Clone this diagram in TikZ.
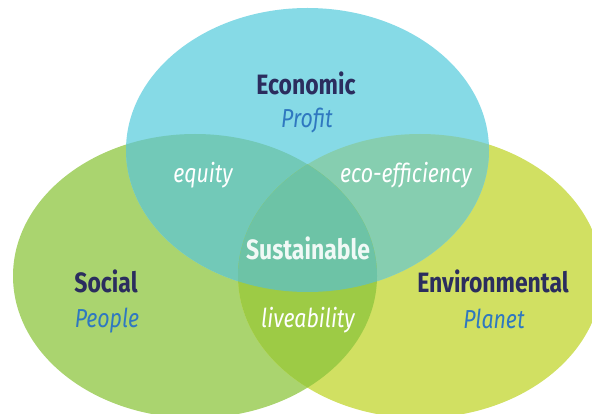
\documentclass[tikz,border=0pt]{standalone}
\usepackage{fontspec}
\setmainfont{Fira Sans}[FakeStretch=0.82]
\definecolor{cTop}{HTML}{86DAE6}
\definecolor{cLeft}{HTML}{AAD46F}
\definecolor{cRight}{HTML}{D1E062}
\definecolor{cTL}{HTML}{72C9B8}
\definecolor{cTR}{HTML}{86CEB0}
\definecolor{cLR}{HTML}{9DCB45}
\definecolor{cMid}{HTML}{6DC3A6}
\definecolor{cHead}{HTML}{2B2D5E}
\definecolor{cSub}{HTML}{2F78C0}
\begin{document}
\begin{tikzpicture}[x=1pt,y=-1pt,
  head/.style={anchor=base,text=cHead,font=\fontsize{28}{32}\selectfont\bfseries},
  sub/.style={anchor=base,text=cSub,font=\fontsize{26}{30}\selectfont\itshape},
  inner/.style={anchor=base,text=white,font=\fontsize{26}{30}\selectfont\itshape},
  core/.style={anchor=base,text=white!90!cMid,font=\fontsize{28}{32}\selectfont\bfseries}]
\useasboundingbox (0,0) rectangle (592,414);
\def\pTop{(307.5,150) ellipse [x radius=181.5pt, y radius=142pt]}
\def\pLeft{(195,276) ellipse [x radius=182pt, y radius=142pt]}
\def\pRight{(420,276) ellipse [x radius=182pt, y radius=142pt]}
\fill[cLeft] \pLeft;
\fill[cRight] \pRight;
\fill[cTop] \pTop;
\begin{scope}\clip \pTop; \fill[cTL] \pLeft; \end{scope}
\begin{scope}\clip \pTop; \fill[cTR] \pRight; \end{scope}
\begin{scope}\clip \pLeft; \fill[cLR] \pRight; \end{scope}
\begin{scope}\clip \pTop; \clip \pLeft; \fill[cMid] \pRight; \end{scope}
\node[head] (eco) at (306,95) {Economic};
\node[sub] (profit) at (307,128) {Profit};
\node[head] (soc) at (106,292) {Social};
\node[sub] (people) at (107,327) {People};
\node[head] (env) at (493,292) {Environmental};
\node[sub] (planet) at (494,328) {Planet};
\node[inner] (equity) at (203,183) {equity};
\node[inner] (ecoeff) at (406,183) {eco-efficiency};
\node[core] (sust) at (308,260) {Sustainable};
\node[inner] (live) at (308,327) {liveability};
\end{tikzpicture}
\end{document}
